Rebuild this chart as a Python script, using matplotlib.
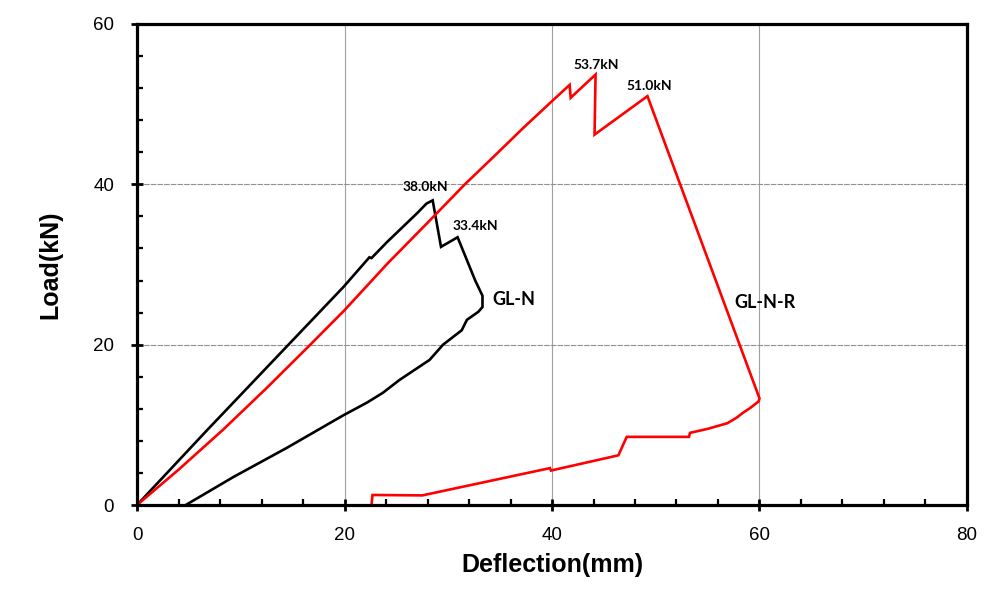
import matplotlib.pyplot as plt
from matplotlib.ticker import MultipleLocator

# GL-N (black)
gln_x = [0, 6.8, 14.6, 19.9, 22.4, 22.6, 24.1, 27.0, 27.9, 28.5, 29.3, 30.9, 32.6, 33.3, 33.3, 32.9, 31.8, 31.3, 29.5,
         28.2, 25.3, 23.7, 22.2, 21.2, 19.9, 14.4, 9.3, 4.7]
gln_y = [0, 9.4, 20.0, 27.2, 30.9, 30.8, 32.8, 36.4, 37.6, 38.0, 32.2, 33.4, 28.0, 26.1, 24.7, 24.1, 23.1, 21.8, 20.0,
         18.1, 15.6, 14.0, 12.8, 12.1, 11.2, 7.1, 3.5, 0]

# GL-N-R (red)
glnr_x = [0, 4.0, 8.3, 12.5, 16.7, 20.0, 24.2, 28.0, 31.6, 34.5, 37.2, 40.1, 41.7, 41.8, 44.2, 44.1, 49.2, 60.0, 59.9,
          59.5, 59.1, 58.4, 57.8, 56.9, 55.0, 53.3, 53.2, 47.2, 46.4, 39.9, 39.8, 27.5, 22.7, 22.6]
glnr_y = [0, 4.4, 9.4, 14.6, 20.0, 24.3, 30.2, 35.2, 40.0, 43.6, 47.0, 50.5, 52.4, 50.8, 53.7, 46.2, 51.0, 13.3, 12.9,
          12.5, 12.1, 11.5, 10.9, 10.2, 9.5, 9.0, 8.5, 8.5, 6.2, 4.3, 4.6, 1.2, 1.25, 0]

peak_labels = ['38.0kN', '33.4kN', '53.7kN', '51.0kN']
peak_x = [27.8, 32.6, 44.3, 49.4]
peak_y = [39.7, 34.8, 54.9, 52.3]

fig = plt.figure(figsize=(10.03, 5.91), dpi=100)
ax = fig.add_axes([0.1366, 0.1455, 0.8275, 0.8139])

ax.plot(gln_x, gln_y, color='black', lw=1.9, solid_joinstyle='miter', zorder=3)
ax.plot(glnr_x, glnr_y, color='#ff0000', lw=1.9, solid_joinstyle='miter', zorder=3)

for t, x, y in zip(peak_labels, peak_x, peak_y):
    ax.text(x, y, t, ha='center', va='center', fontsize=10, fontweight='bold', family='Lato')
ax.text(36.3, 25.6, 'GL-N', ha='center', va='center', fontsize=13, fontweight='bold', family='Lato')
ax.text(60.5, 25.3, 'GL-N-R', ha='center', va='center', fontsize=13, fontweight='bold', family='Lato')

ax.set_xlim(0, 80)
ax.set_ylim(0, 60)
ax.xaxis.set_major_locator(MultipleLocator(20))
ax.yaxis.set_major_locator(MultipleLocator(20))
ax.xaxis.set_minor_locator(MultipleLocator(4))
ax.yaxis.set_minor_locator(MultipleLocator(4))

ax.grid(True, which='major', axis='x', color='#a0a0a0', lw=0.8)
ax.grid(True, which='major', axis='y', color='#909090', lw=0.8, ls=(0, (5, 1)))
ax.set_axisbelow(True)

for s in ax.spines.values():
    s.set_linewidth(2.3)
    s.set_zorder(4)

ax.tick_params(which='major', direction='inout', length=9, width=2, labelsize=13.5)
ax.tick_params(axis='x', which='major', pad=11)
ax.tick_params(axis='y', which='major', pad=12)
ax.tick_params(which='minor', direction='in', length=4, width=1.6)
ax.tick_params(top=False, right=False, which='both')
for lab in ax.get_xticklabels() + ax.get_yticklabels():
    lab.set_family('Liberation Sans')

ax.set_xlabel('Deflection(mm)', fontsize=18, fontweight='bold', family='Liberation Sans', labelpad=7)
ax.set_ylabel('Load(kN)', fontsize=18, fontweight='bold', family='Liberation Sans', labelpad=22)

fig.savefig('out.png', dpi=100)
